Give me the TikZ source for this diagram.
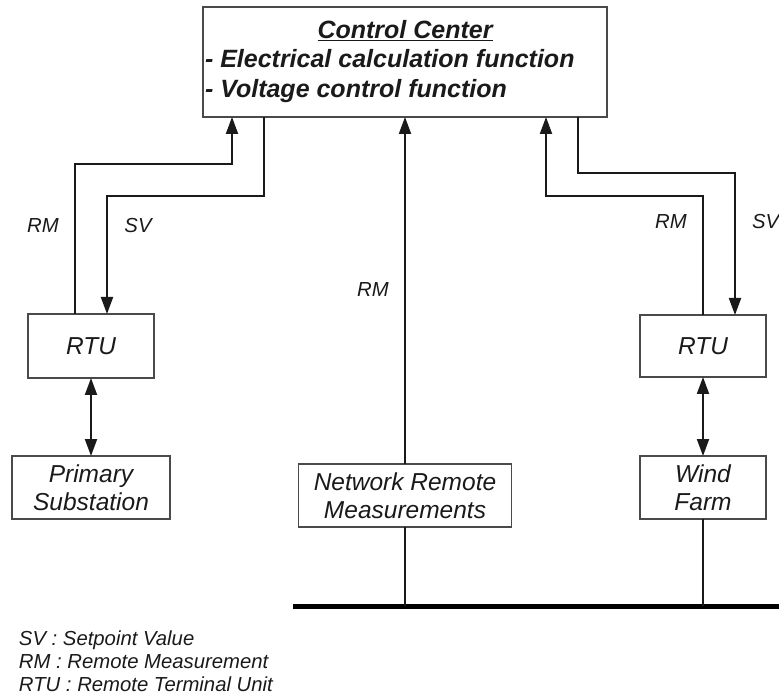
\documentclass[tikz,border=0pt]{standalone}
\usepackage{fontspec}
\setmainfont{Liberation Sans}
\usetikzlibrary{arrows.meta}
\definecolor{ink}{HTML}{1A1A1A}
\definecolor{boxline}{HTML}{4A4A4A}
\begin{document}
\begin{tikzpicture}[x=1pt,y=-1pt,
  every node/.style={inner sep=0pt,outer sep=0pt,text=ink},
  unit/.style={draw=boxline,line width=1.6pt,fill=white,align=center,
    font=\fontsize{24.5}{28.5}\selectfont\itshape},
  head/.style={font=\fontsize{25}{29}\selectfont\bfseries\itshape},
  tag/.style={font=\fontsize{20.3}{23}\selectfont\itshape},
  link/.style={draw=ink,line width=2pt},
  arr/.style={link,-{Triangle[length=17pt,width=12pt]}},
  darr/.style={link,{Triangle[length=17pt,width=12pt]}-{Triangle[length=17pt,width=12pt]}},
  bus/.style={draw=black,line width=5pt}]
\useasboundingbox (0,0) rectangle (779,700);
\clip (0,0) rectangle (779,700);

% control centre
\node[unit,minimum width=404pt,minimum height=110pt] (cc) at (405,62) {};
\node[head,anchor=base] (ccTitle) at (405,39) {\underline{Control Center}};
\node[head,anchor=base west] (ccCalc) at (205,68) {- Electrical calculation function};
\node[head,anchor=base west] (ccVolt) at (205,98) {- Voltage control function};

% field units
\node[unit,minimum width=126pt,minimum height=64pt] (rtuL) at (91,346) {RTU};
\node[unit,minimum width=158pt,minimum height=63pt] (ps) at (91,487.5) {Primary\\Substation};
\node[unit,minimum width=213pt,minimum height=63pt] (nrm) at (405,495.5) {Network Remote\\Measurements};
\node[unit,minimum width=126pt,minimum height=62pt] (rtuR) at (703,346) {RTU};
\node[unit,minimum width=126pt,minimum height=63pt] (wf) at (703,487.5) {Wind\\Farm};

% busbar
\coordinate (busL) at (293,606);
\coordinate (busR) at (779,606);
\draw[bus] (busL) -- (busR);

% left RTU links
\draw[arr] ([xshift=-16pt]rtuL.north) -- ++(0,-150) -| ([xshift=-173pt]cc.south);
\draw[arr] ([xshift=-141pt]cc.south) -- ++(0,79) -| ([xshift=16pt]rtuL.north);
\draw[darr] (rtuL.south) -- (ps.north);

% network measurements
\draw[arr] (nrm.north) -- (nrm.north |- cc.south);
\draw[link] (nrm.south) -- (nrm.south |- busL);

% right RTU links
\draw[arr] (rtuR.north) -- ++(0,-119) -| ([xshift=141pt]cc.south);
\draw[arr] ([xshift=173pt]cc.south) -- ++(0,56) -| ([xshift=32pt]rtuR.north);
\draw[darr] (rtuR.south) -- (wf.north);
\draw[link] (wf.south) -- (wf.south |- busL);

% signal labels
\node[tag] (rmL) at (43,226) {RM};
\node[tag] (svL) at (138,226) {SV};
\node[tag] (rmC) at (373,290) {RM};
\node[tag] (rmR) at (671,222) {RM};
\node[tag,anchor=west] (svR) at (752,222) {SV};

% legend
\node[tag,anchor=base west] (legSV) at (19,645) {SV : Setpoint Value};
\node[tag,anchor=base west] (legRM) at (19,668) {RM : Remote Measurement};
\node[tag,anchor=base west] (legRTU) at (19,691) {RTU : Remote Terminal Unit};
\end{tikzpicture}
\end{document}
